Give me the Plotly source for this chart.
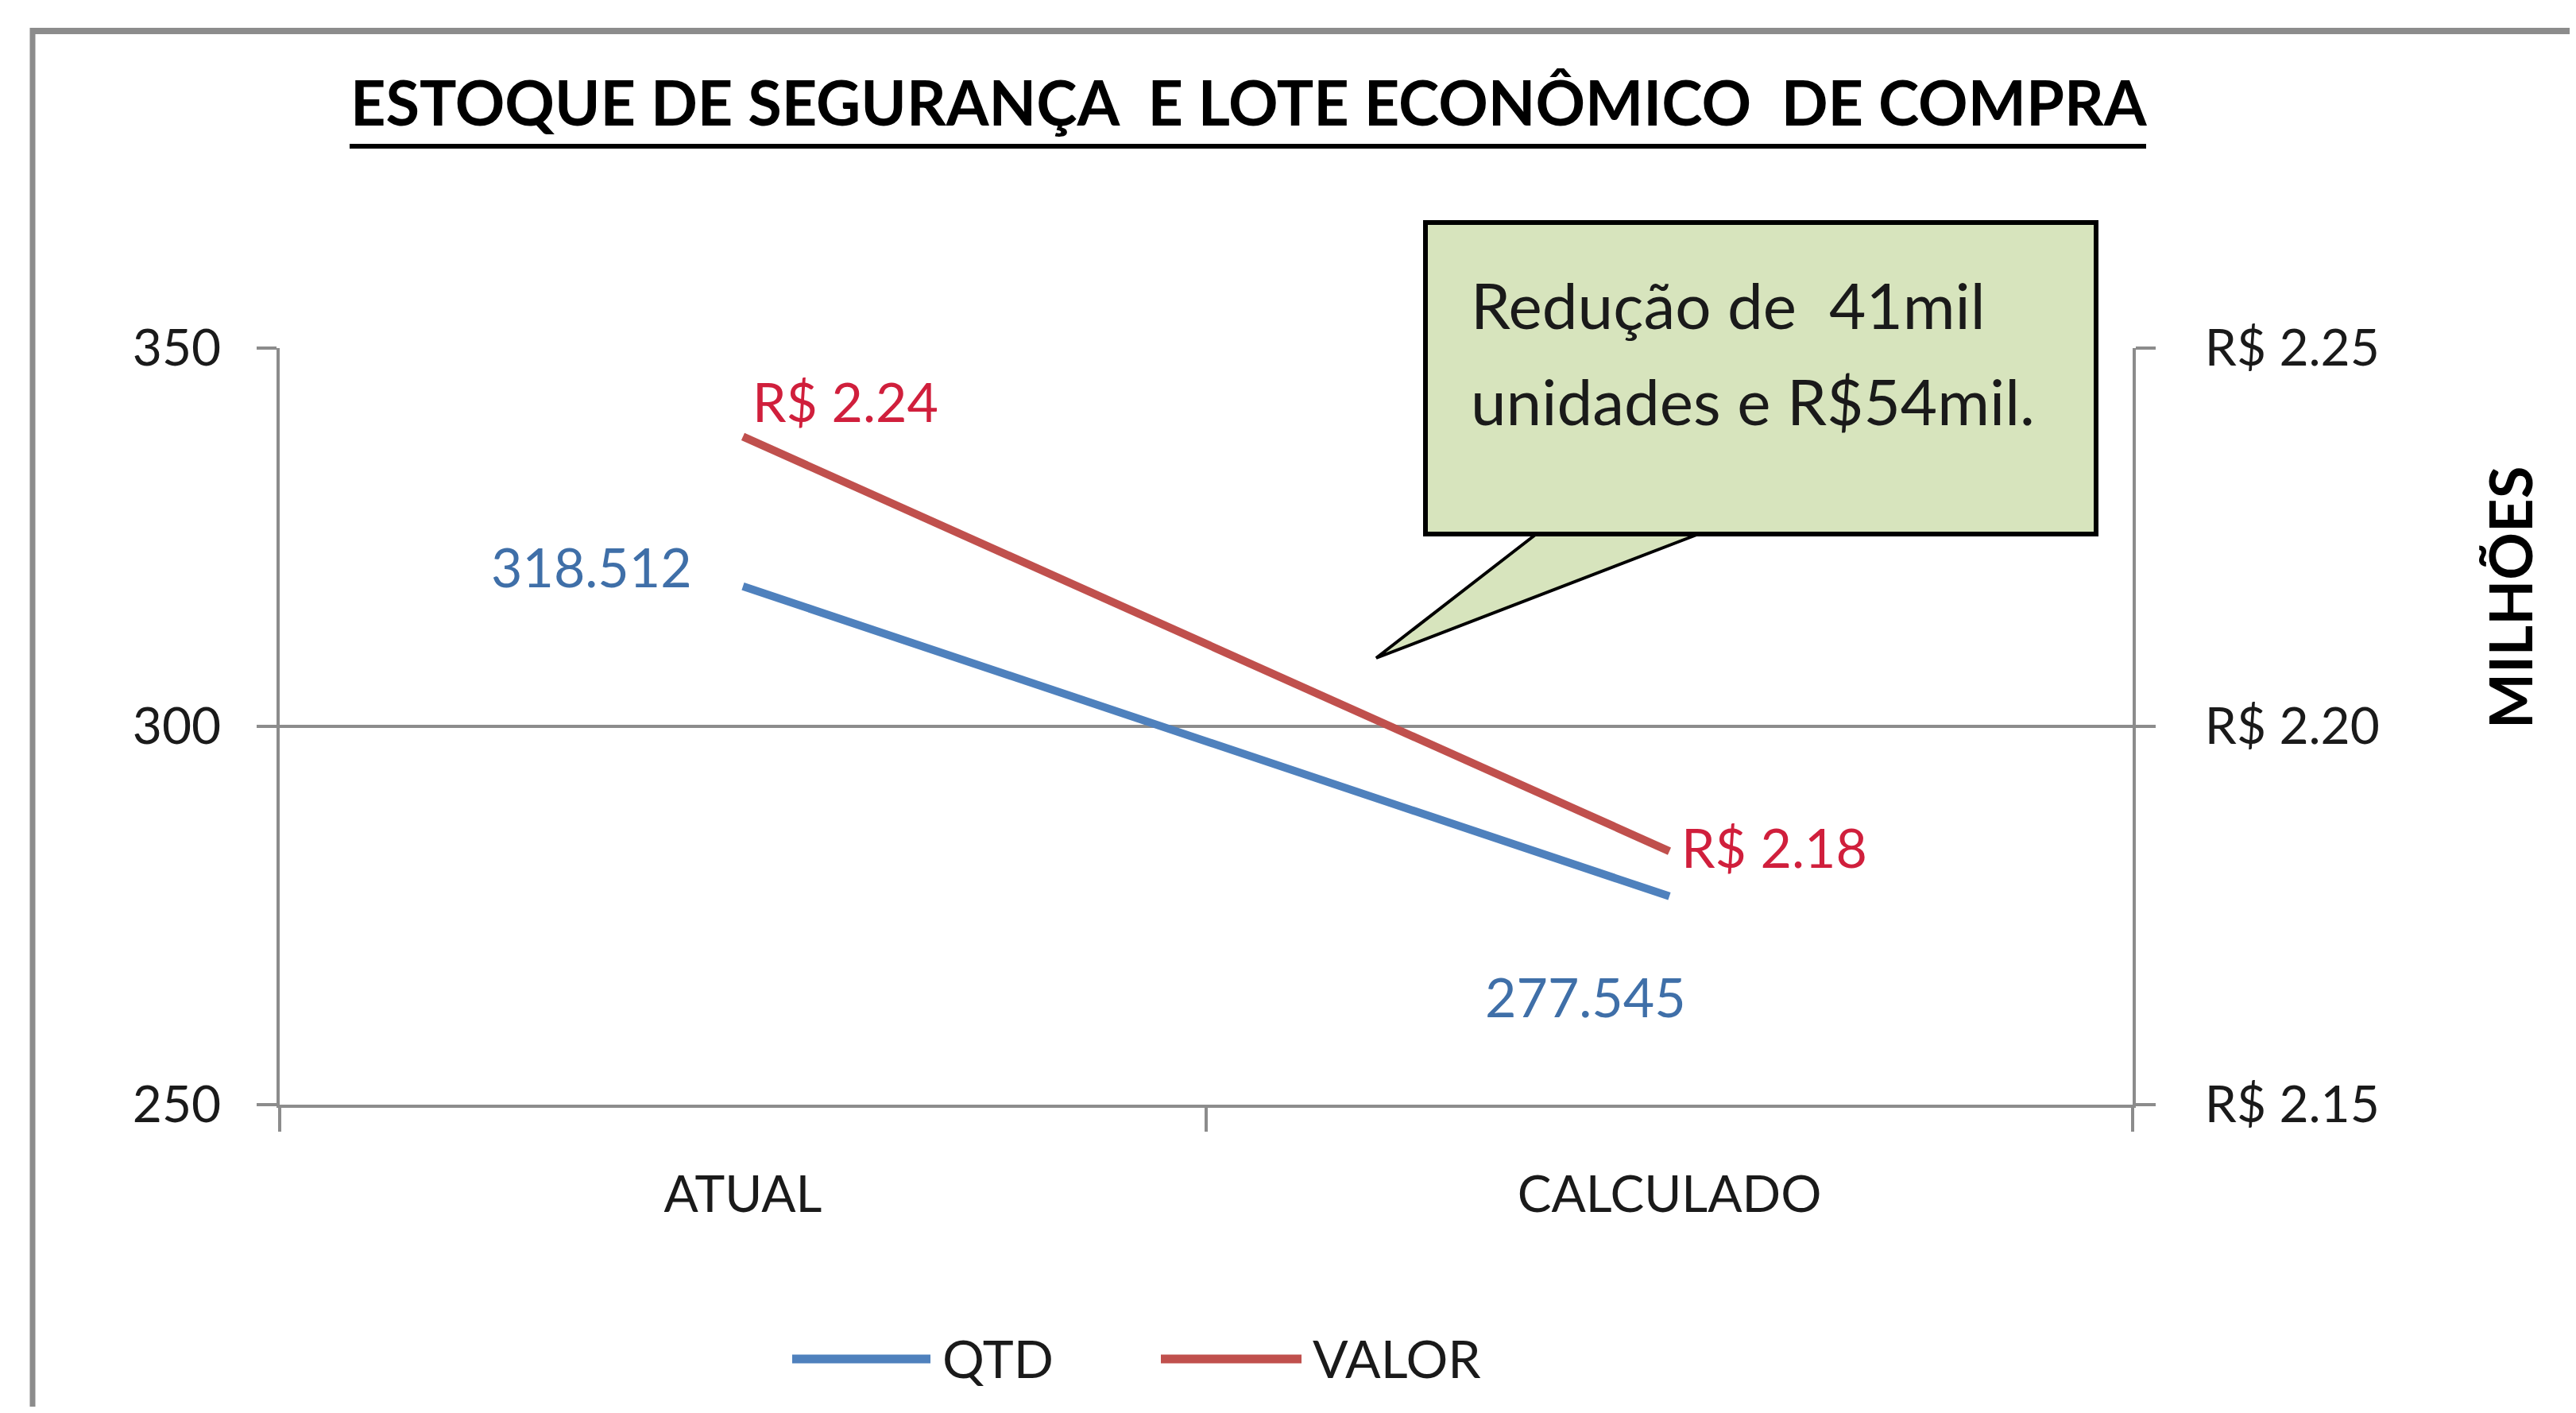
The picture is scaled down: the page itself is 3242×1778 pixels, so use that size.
import plotly.graph_objects as go

# ---------------- data ----------------
CATEGORIES = ["ATUAL", "CALCULADO"]
QTD = [318.512, 277.545]          # mil unidades (eixo esquerdo)
VALOR = [2.2383, 2.1835]          # R$ milhões (eixo direito)
SERIES = ["QTD", "VALOR"]
Y_TICKS = [250, 300, 350]
Y2_TICKS = [2.15, 2.20, 2.25]
TITLE = "ESTOQUE DE SEGURANÇA\u00a0 E LOTE ECONÔMICO\u00a0 DE COMPRA"
CALLOUT = ["Redução de\u00a0 41mil", "unidades e R$54mil."]
Y2_TITLE = "MILHÕES"

# ---------------- styling / layout ----------------
OFF = 8                       # default page body margin
W, H = 3242 - 2 * OFF, 1778 - 2 * OFF
L, R, T, B = 352 - OFF, 2684 - OFF, 438 - OFF, 1390 - OFF
FONT = "Lato"
BLUE, RED = "#4F81BD", "#C0504D"
BLUE_TXT, RED_TXT = "#3F6FA8", "#D01F3C"
GRID = "#8C8C8C"
TXT = "#1A1A1A"


def px_x(px):
    """page pixel x -> paper coordinate"""
    return (px - OFF - L) / (R - L)


def px_y(py):
    """page pixel y -> paper coordinate"""
    return (B - (py - OFF)) / (B - T)


fig = go.Figure()
fig.add_trace(go.Scatter(x=CATEGORIES, y=QTD, mode="lines", name=SERIES[0],
                         line=dict(color=BLUE, width=10), yaxis="y", showlegend=False))
fig.add_trace(go.Scatter(x=CATEGORIES, y=VALOR, mode="lines", name=SERIES[1],
                         line=dict(color=RED, width=10), yaxis="y2", showlegend=False))

ann = []
# data labels
qtd_offsets = [dict(xanchor="right", xshift=-62, yshift=25),
               dict(xanchor="right", xshift=23, yshift=-126)]
val_offsets = [dict(xanchor="left", xshift=10, yshift=45),
               dict(xanchor="left", xshift=13, yshift=6)]
for c, v, o in zip(CATEGORIES, QTD, qtd_offsets):
    ann.append(dict(x=c, y=v, xref="x", yref="y", text=f"{v:.3f}", showarrow=False,
                    yanchor="middle", font=dict(family=FONT, size=68, color=BLUE_TXT), **o))
for c, v, o in zip(CATEGORIES, VALOR, val_offsets):
    ann.append(dict(x=c, y=v, xref="x", yref="y2", text=f"R$ {v:.2f}", showarrow=False,
                    yanchor="middle", font=dict(family=FONT, size=68, color=RED_TXT), **o))

# title
ann.append(dict(x=px_x(1572), y=px_y(128), xref="paper", yref="paper", text=f"<b>{TITLE}</b>",
                showarrow=False, xanchor="center", yanchor="middle",
                font=dict(family=FONT, size=77.5, color="#000000")))
# right axis title
ann.append(dict(x=px_x(3158), y=px_y(752), xref="paper", yref="paper", text=f"<b>{Y2_TITLE}</b>",
                showarrow=False, textangle=-90, xanchor="center", yanchor="middle",
                font=dict(family=FONT, size=74, color="#000000")))
# callout text
for line, cy in zip(CALLOUT, [383, 504]):
    ann.append(dict(x=px_x(1849), y=px_y(cy), xref="paper", yref="paper", text=line,
                    showarrow=False, xanchor="left", yanchor="middle",
                    font=dict(family=FONT, size=80, color=TXT)))

# legend (custom, long line samples)
legend_pos = [(997, 1171, 1184), (1461, 1638, 1650)]
shapes = []
for name, color, (lx0, lx1, tx) in zip(SERIES, [BLUE, RED], legend_pos):
    shapes.append(dict(type="line", xref="paper", yref="paper", x0=px_x(lx0), x1=px_x(lx1),
                       y0=px_y(1710), y1=px_y(1710), line=dict(color=color, width=11)))
    ann.append(dict(x=px_x(tx), y=px_y(1708), xref="paper", yref="paper", text=name,
                    showarrow=False, xanchor="left", yanchor="middle",
                    font=dict(family=FONT, size=66, color=TXT)))

# title underline
shapes.append(dict(type="line", xref="paper", yref="paper", x0=px_x(440), x1=px_x(2701),
                   y0=px_y(184), y1=px_y(184), line=dict(color="#000000", width=6)))
# chart frame (top & left visible)
shapes.append(dict(type="line", xref="paper", yref="paper", x0=px_x(41), x1=px_x(3242),
                   y0=px_y(39), y1=px_y(39), line=dict(color=GRID, width=8)))
shapes.append(dict(type="line", xref="paper", yref="paper", x0=px_x(41), x1=px_x(41),
                   y0=px_y(35), y1=px_y(1778), line=dict(color=GRID, width=7)))
# callout pointer then box
shapes.append(dict(type="path", xref="paper", yref="paper",
                   path=f"M {px_x(1936)},{px_y(670)} L {px_x(1732)},{px_y(828)} L {px_x(2143)},{px_y(670)} Z",
                   fillcolor="#D7E4BD", line=dict(color="#000000", width=4)))
shapes.append(dict(type="rect", xref="paper", yref="paper", x0=px_x(1794), x1=px_x(2638),
                   y0=px_y(672), y1=px_y(280), fillcolor="#D7E4BD", line=dict(color="#000000", width=6)))

fig.update_layout(
    width=W, height=H, autosize=False,
    margin=dict(l=L, r=W - R, t=T, b=H - B, pad=0),
    paper_bgcolor="white", plot_bgcolor="white",
    font=dict(family=FONT, size=64, color=TXT),
    showlegend=False,
    xaxis=dict(type="category", range=[-0.5, 1.5], tickson="boundaries", ticks="outside",
               ticklen=30, tickwidth=4,
               tickcolor=GRID, showline=True, linecolor=GRID, linewidth=4, showgrid=False,
               tickfont=dict(family=FONT, size=64, color=TXT), ticklabelstandoff=54),
    yaxis=dict(range=[250, 350], tickvals=Y_TICKS, ticks="outside", ticklen=25, tickwidth=4,
               tickcolor=GRID, showline=True, linecolor=GRID, linewidth=4, showgrid=True,
               gridcolor=GRID, gridwidth=4, zeroline=False,
               tickfont=dict(family=FONT, size=64, color=TXT), ticklabelstandoff=32),
    yaxis2=dict(range=[2.15, 2.25], tickvals=Y2_TICKS,
                ticktext=[f"R$ {v:.2f}" for v in Y2_TICKS],
                overlaying="y", side="right", ticks="outside", ticklen=25, tickwidth=4,
                tickcolor=GRID, showline=True, linecolor=GRID, linewidth=4, showgrid=False,
                zeroline=False, tickfont=dict(family=FONT, size=64, color=TXT), ticklabelstandoff=49),
    annotations=ann,
    shapes=shapes,
)

fig.write_html("out.html")
